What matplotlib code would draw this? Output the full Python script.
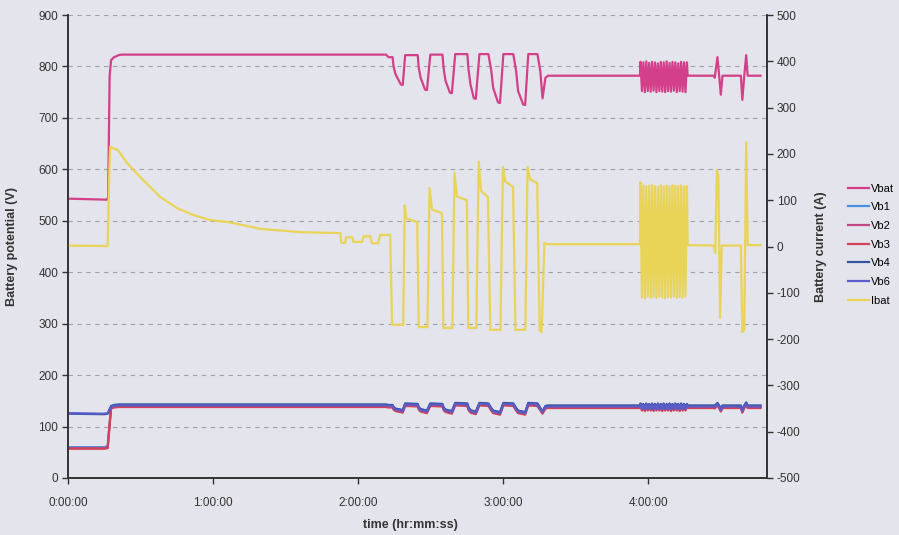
import matplotlib
matplotlib.use("Agg")
import matplotlib.pyplot as plt

plt.rcParams['font.family'] = ['Liberation Sans', 'DejaVu Sans']
plt.rcParams['axes.unicode_minus'] = False

# time in minutes
vbat_t = [0, 16.0, 16.6, 17.2, 17.8, 19.0, 21.0, 22.0, 131.5, 132.5, 134.2,
          134.6, 135.4, 137.6, 138.4, 139.4, 144.6,
          145.0, 145.8, 147.6, 148.4, 149.8, 154.8,
          155.3, 156.1, 157.9, 158.7, 160.1, 165.1,
          165.6, 166.4, 167.8, 168.6, 170.1, 173.8,
          175.0, 175.8, 177.8, 178.6, 180.0, 184.1,
          185.3, 186.1, 188.2, 189.0, 190.3, 194.1,
          195.3, 196.2, 197.4, 198.5, 236.5]
vbat_v = [543, 541, 545, 780, 812, 818, 822, 823, 823, 818, 818,
          800, 785, 765, 764, 822, 822,
          798, 778, 755, 754, 823, 823,
          796, 772, 749, 748, 824, 824,
          794, 765, 738, 737, 824, 824,
          792, 758, 730, 729, 824, 824,
          790, 752, 726, 725, 824, 824,
          790, 738, 778, 782, 782]

# fast pulse block around 4:00
block_t = [236.7, 237.3, 237.9, 238.5, 239.1, 239.7, 240.3, 240.9, 241.5, 242.1,
           242.7, 243.3, 243.9, 244.5, 245.1, 245.7, 246.3, 246.9, 247.5, 248.1,
           248.7, 249.3, 249.9, 250.5, 251.1, 251.7, 252.3, 252.9, 253.5, 254.1,
           254.7, 255.3, 255.9]
block_vbat = [809, 752, 808, 750, 810, 752, 807, 751, 809, 753, 808, 750, 806, 752,
              809, 751, 808, 750, 810, 752, 807, 751, 809, 753, 808, 750, 806, 752,
              809, 751, 808, 750, 808]
block_ibat = [138, -110, 132, -112, 130, -108, 131, -110, 133, -109, 130, -111,
              129, -108, 132, -110, 130, -112, 131, -109, 130, -110, 132, -108,
              131, -111, 130, -109, 132, -110, 130, -108, 130]
block_vb = [143, 134, 142, 133, 143, 134, 142, 134, 143, 133, 142, 134, 143, 134,
            142, 133, 143, 134, 142, 134, 143, 133, 142, 134, 143, 134, 142, 133,
            143, 134, 142, 134, 142]

tail_t = [256.2, 267.0, 267.4, 268.5, 269.2, 269.9, 270.6, 278.2, 278.8, 279.6,
          280.4, 281.0, 286.3]
tail_vbat = [782, 782, 778, 818, 783, 745, 782, 782, 735, 782, 822, 782, 782]
tail_vb = [139, 139, 138, 144, 139, 132, 139, 139, 130, 139, 145, 139, 139]

# module voltages: common level after the step, per-module offsets
vb_pre_t = [0, 15.0, 16.4]
vb_common = [138, 140, 141, 141, 141, 140, 140,
             136, 133, 131, 130, 143, 142,
             136, 132, 130, 129, 143, 142,
             135, 131, 129, 128, 144, 143,
             135, 130, 128, 127, 144, 143,
             134, 129, 127, 126, 144, 143,
             134, 129, 127, 126, 144, 143,
             134, 128, 138, 139, 139]
vb_names = ["Vb1", "Vb2", "Vb3", "Vb4", "Vb6"]
vb_pre = {"Vb1": [60, 60, 62], "Vb2": [58, 58, 59], "Vb3": [57, 57, 58],
          "Vb4": [125, 124, 125], "Vb6": [126, 125, 126]}
vb_shift = {"Vb1": 1, "Vb2": -1, "Vb3": -3, "Vb4": 2, "Vb6": 0}

ibat_t = [0, 16.4, 17.0, 17.4, 20.7, 24.4, 31.0, 38.1, 45.1, 51.8, 58.9, 65.9,
          72.5, 79.6, 96, 112.6, 113.0, 114.6,
          115.0, 117.5, 118.0, 121.7, 122.1, 125.0, 125.6, 128.3, 129.0, 133.2,
          134.0, 138.6, 139.2, 140.0, 144.4,
          145.0, 148.6, 149.5, 150.5, 154.6,
          155.2, 158.9, 159.8, 160.8, 164.9,
          165.5, 168.8, 169.8, 170.8, 173.6,
          174.6, 178.8, 179.8, 180.8, 184.0,
          185.0, 189.1, 190.0, 191.0, 194.0,
          195.0, 195.8, 197.0, 198.0, 236.5]
ibat_v = [2, 1, 150, 215, 208, 180, 144, 107, 83, 68, 57, 53,
          46, 38, 31, 29, 8, 8,
          20, 20, 10, 10, 22, 22, 7, 7, 25, 25,
          -169, -169, 89, 60, 53,
          -174, -174, 126, 80, 72,
          -176, -176, 159, 108, 100,
          -176, -176, 183, 120, 107,
          -180, -180, 172, 140, 129,
          -180, -180, 172, 145, 137,
          -180, -185, 8, 5, 5]
tail_ibat_t = [256.2, 267.0, 267.6, 268.3, 268.9, 269.6, 270.3, 278.2, 278.8, 279.6,
               280.4, 281.0, 286.3]
tail_ibat = [3, 2, -14, 165, 150, -154, 2, 2, -185, -180, 225, 3, 3]

colors = {"Vbat": "#d43f8a", "Vb1": "#4a90e0", "Vb2": "#c04a86", "Vb3": "#d24258",
          "Vb4": "#34549e", "Vb6": "#5a5cc8", "Ibat": "#e9d458"}

fig = plt.figure(figsize=(8.99, 5.35), dpi=100, facecolor="#e4e4ec")
ax = fig.add_axes([68 / 899, 1 - 478 / 535, 699 / 899, 463 / 535])
ax.set_facecolor("#e4e4ec")
ax2 = ax.twinx()

handles = []
h, = ax.plot(vbat_t + block_t + tail_t, vbat_v + block_vbat + tail_vbat,
             color=colors["Vbat"], lw=1.6, label="Vbat")
handles.append(h)
vb_t = vb_pre_t + vbat_t[4:] + block_t + tail_t
for name in vb_names:
    vals = vb_pre[name] + [v + vb_shift[name] for v in vb_common + block_vb + tail_vb]
    h, = ax.plot(vb_t, vals, color=colors[name], lw=1.6, label=name)
    handles.append(h)
h, = ax2.plot(ibat_t + block_t + tail_ibat_t, ibat_v + block_ibat + tail_ibat,
              color=colors["Ibat"], lw=1.6, label="Ibat")
handles.append(h)

ax.set_xlim(0, 289)
ax.set_ylim(0, 900)
ax.set_yticks(range(0, 901, 100))
ax2.set_ylim(-500, 500)
ax2.set_yticks(range(-500, 501, 100))
ax.set_xticks([0, 60, 120, 180, 240])
ax.set_xticklabels(["0:00:00", "1:00:00", "2:00:00", "3:00:00", "4:00:00"])

ax.yaxis.grid(True, color="#a0a0a8", linestyle=(0, (4, 4)), lw=0.8)
ax.set_axisbelow(True)
for a in (ax, ax2):
    a.spines["top"].set_visible(False)
    for s in ("left", "right", "bottom"):
        a.spines[s].set_color("#333333")
        a.spines[s].set_linewidth(1.2)
    a.tick_params(labelsize=8.5, colors="#333333", length=4, width=1)
    a.tick_params(axis="y", pad=3)
ax.tick_params(axis="x", pad=10)

ax.set_ylabel("Battery potential (V)", fontsize=9, fontweight="bold", color="#333333")
ax.yaxis.set_label_coords(-0.072, 0.5)
ax2.set_ylabel("Battery current (A)", fontsize=9, fontweight="bold", color="#333333")
ax2.yaxis.set_label_coords(1.069, 0.5)
ax.set_xlabel("time (hr:mm:ss)", fontsize=9, fontweight="bold", color="#333333")
ax.xaxis.set_label_coords(0.49, -0.088)

fig.legend(handles=handles, loc="upper left", bbox_to_anchor=(0.937, 0.667),
           frameon=False, fontsize=8, handlelength=1.9, handletextpad=0.15,
           labelspacing=0.78, borderpad=0)

fig.savefig("out.png", dpi=100, facecolor=fig.get_facecolor())
